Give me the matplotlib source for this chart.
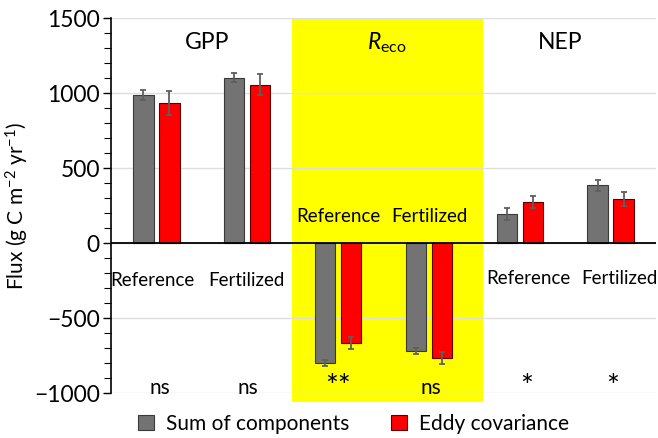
import matplotlib.pyplot as plt
import matplotlib
from matplotlib.ticker import MultipleLocator
import numpy as np

matplotlib.rcParams['font.family'] = ['Lato', 'DejaVu Sans']
matplotlib.rcParams['mathtext.fontset'] = 'custom'
matplotlib.rcParams['mathtext.rm'] = 'Lato'
matplotlib.rcParams['mathtext.it'] = 'Lato:italic'

# data
groups = ['GPP', 'Reco', 'NEP']
sites = ['Reference', 'Fertilized']
sum_components = [990, 1103, -799, -719, 194, 386]
sum_err = [35, 30, 18, 18, 42, 36]
eddy_cov = [936, 1058, -663, -766, 275, 293]
eddy_err = [80, 70, 40, 40, 42, 48]
signif = ['ns', 'ns', '**', 'ns', '*', '*']

fig = plt.figure(figsize=(6.58, 4.38), dpi=100)
ax = fig.add_axes([0.1687, 0.1027, 0.8283, 0.8555])

x = np.arange(len(sum_components))
w = 0.225
off = 0.143

# yellow Reco panel
ax.fill_between([1.49, 3.6], -1060, 1500, color='#FFFF00', zorder=0, clip_on=False, lw=0)

ax.bar(x - off, sum_components, w, color='#737373', edgecolor='#3a3a3a', lw=0.8, zorder=3,
       label='Sum of components')
ax.bar(x + off, eddy_cov, w, color='#FF0000', edgecolor='#5a0000', lw=0.8, zorder=3,
       label='Eddy covariance')
ax.errorbar(x - off, sum_components, yerr=sum_err, fmt='none', ecolor='#5f5f5f',
            elinewidth=1.3, capsize=2.5, capthick=1.3, zorder=4)
ax.errorbar(x + off, eddy_cov, yerr=eddy_err, fmt='none', ecolor='#5f5f5f',
            elinewidth=1.3, capsize=2.5, capthick=1.3, zorder=4)

ax.axhline(0, color='black', lw=1.3, zorder=5)

ax.set_xlim(-0.5, 5.5)
ax.set_ylim(-1000, 1500)
ax.yaxis.set_major_locator(MultipleLocator(500))
ax.yaxis.set_minor_locator(MultipleLocator(100))
ax.grid(axis='y', color='#dedede', lw=1, zorder=1)
ax.tick_params(axis='y', which='major', length=6, width=1, labelsize=16.5, pad=2)
ax.tick_params(axis='y', which='minor', length=5, width=0.8)
ax.set_xticks([])
for s in ['top', 'right', 'bottom']:
    ax.spines[s].set_visible(False)
ax.spines['left'].set_linewidth(1.2)
ax.set_yticks([-1000, -500, 0, 500, 1000, 1500])
ax.set_yticklabels(['\u22121000', '\u2212500', '0', '500', '1000', '1500'])
ax.set_ylabel('Flux (g C m$^{\\mathregular{\u22122}}$ yr$^{\\mathregular{\u22121}}$)', fontsize=15, labelpad=2)

# group titles
ax.text(0.56, 1340, 'GPP', ha='center', va='center', fontsize=16.5)
ax.text(2.54, 1340, r'$R_{\mathregular{eco}}$', ha='center', va='center', fontsize=16.5)
ax.text(4.45, 1340, 'NEP', ha='center', va='center', fontsize=16.5)

# site labels
label_y = [-250, -250, 180, 180, -235, -235]
label_dx = [-0.04, -0.01, 0, 0.01, 0.1, 0.1]
for i in range(6):
    ax.text(x[i] + label_dx[i], label_y[i], sites[i % 2], ha='center', va='center', fontsize=13.5)

# significance
sig_dx = [0.04, 0.01, 0.0, 0.02, 0.07, 0.02]
for i in range(6):
    if signif[i] == 'ns':
        ax.text(x[i] + sig_dx[i], -965, signif[i], ha='center', va='center', fontsize=15)
    else:
        ax.text(x[i] + sig_dx[i], -960, signif[i], ha='center', va='center', fontsize=22)

ax.legend(loc='center', bbox_to_anchor=(0.445, -0.083), ncol=2, frameon=False,
          fontsize=15, handlelength=0.75, handleheight=0.75, columnspacing=2.0,
          handletextpad=0.6, borderpad=0.1)

plt.savefig('out.png', dpi=100)
plt.close()
